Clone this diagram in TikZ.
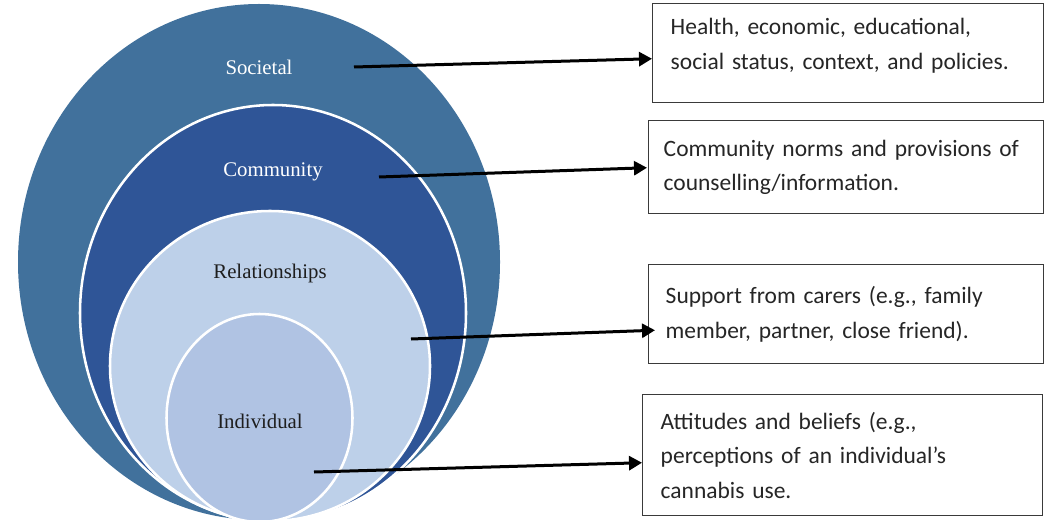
\documentclass[tikz,border=0pt]{standalone}
\usepackage{fontspec}
\setmainfont{Liberation Serif}
\newfontfamily\boxfont{Carlito}
\usetikzlibrary{arrows.meta}

\definecolor{societal}{HTML}{41719C}
\definecolor{community}{HTML}{2F5597}
\definecolor{relation}{HTML}{BDD0E9}
\definecolor{individual}{HTML}{B0C3E3}
\definecolor{boxline}{HTML}{3A3A3A}
\definecolor{boxtext}{HTML}{262626}
\definecolor{darklabel}{HTML}{1E1E1E}

\tikzset{
  ring/.style={draw=white, line width=1.9pt},
  levellabel/.style={anchor=base, inner sep=0pt, font=\fontsize{15.6}{18}\selectfont},
  infobox/.style={draw=boxline, line width=1.1pt, fill=white, anchor=north west,
    align=left, inner ysep=0pt, text=boxtext,
    font=\boxfont\fontsize{17.6}{26}\selectfont},
  pointer/.style={draw=black, line width=2.25pt,
    -{Triangle[length=9.75pt,width=10.5pt]}}
}

\begin{document}
\begin{tikzpicture}[x=0.75pt,y=-0.75pt]
\useasboundingbox (0,0) rectangle (1044,520);
\clip (0,0) rectangle (1044,520);

% nested levels of the socio-ecological model
\fill[societal] (259,262) ellipse [x radius=180.75pt, y radius=193.5pt];
\filldraw[ring, fill=community] (273,313) ellipse [x radius=144.75pt, y radius=156pt];
\filldraw[ring, fill=relation] (270,366) ellipse [x radius=120pt, y radius=116.25pt];
\filldraw[ring, fill=individual] (259.5,418) ellipse [x radius=69.75pt, y radius=78pt];

% level names
\node[levellabel, text=white] (lsoc) at (259,75) {Societal};
\node[levellabel, text=white] (lcom) at (273,177) {Community};
\node[levellabel, text=darklabel] (lrel) at (270,278) {Relationships};
\node[levellabel, text=darklabel] (lind) at (260,428) {Individual};

% description boxes
\node[infobox, inner xsep=13.5pt, text width=266.25pt, minimum height=74.25pt] (b1) at (652,3)
  {Health, economic, educational,\\ social status, context, and policies.\rule[-14pt]{0pt}{0pt}};
\node[infobox, inner xsep=11.25pt, text width=273.75pt, minimum height=69.75pt] (b2) at (648,120)
  {Community norms and provisions of\\ counselling/information.};
\node[infobox, inner xsep=12.75pt, text width=270.75pt, minimum height=74.25pt] (b3) at (648,264)
  {Support from carers (e.g., family\\ member, partner, close friend).};
\node[infobox, inner xsep=13.5pt, text width=273pt, minimum height=90.75pt] (b4) at (642,394)
  {Attitudes and beliefs (e.g.,\\ perceptions of an individual’s\\ cannabis use.};

% arrow origins inside the rings
\coordinate (s1) at (354,67);
\coordinate (s2) at (379,177);
\coordinate (s3) at (411,339);
\coordinate (s4) at (314,472);

\draw[pointer] (s1) -- ([shift={(0,5.5)}]b1.west);
\draw[pointer] (s2) -- ([shift={(-1,0.5)}]b2.west);
\draw[pointer] (s3) -- ([shift={(7,16)}]b3.west);
\draw[pointer] (s4) -- ([shift={(0,7.5)}]b4.west);
\end{tikzpicture}
\end{document}
